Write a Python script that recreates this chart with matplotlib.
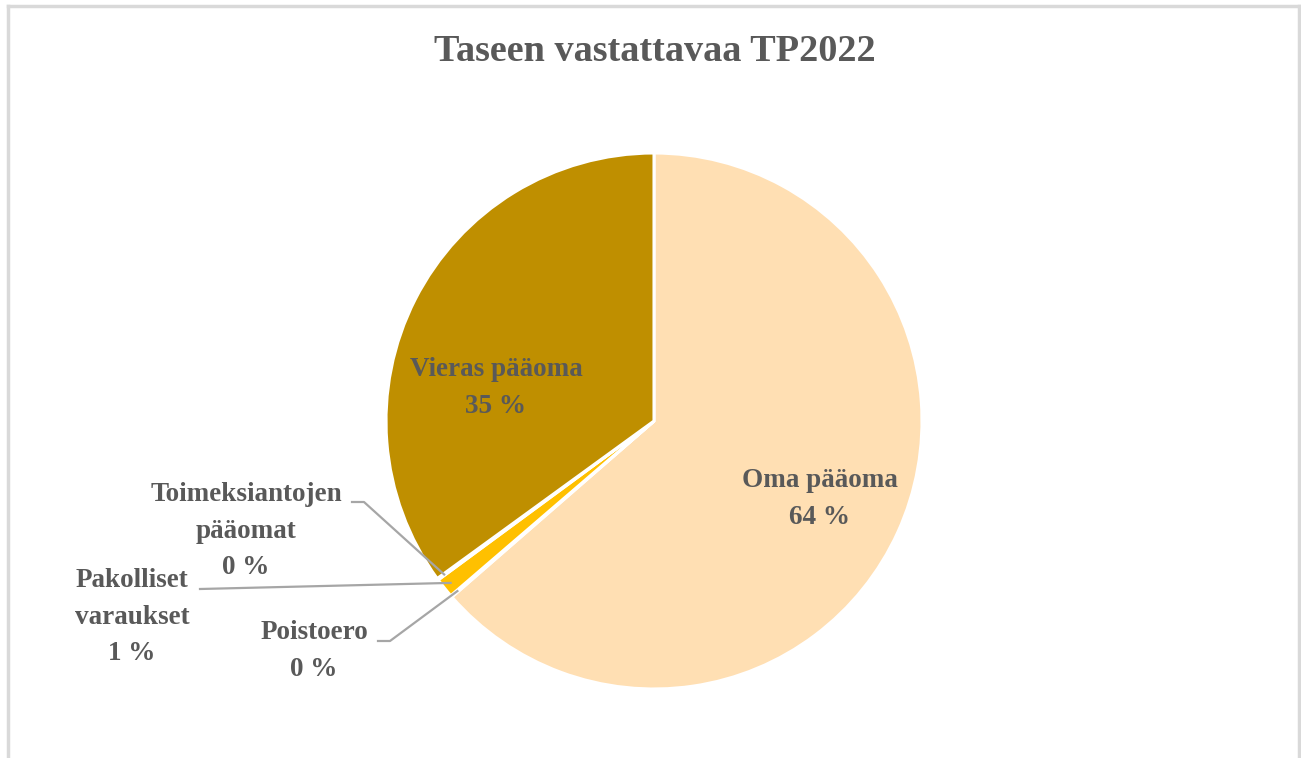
import numpy as np
import matplotlib.pyplot as plt
from matplotlib.lines import Line2D

labels = ['Oma pääoma', 'Poistoero', 'Pakolliset\nvaraukset', 'Toimeksiantojen\npääomat', 'Vieras pääoma']
shares = [63.6, 0.1, 1.2, 0.1, 35.0]
shown = ['64 %', '0 %', '1 %', '0 %', '35 %']
colors = ['#FFDFB3', '#F5D38A', '#FFC000', '#E0A800', '#BF8F00']

W, H = 1301, 758
cx, cy, R = 654, 421, 268

fig = plt.figure(figsize=(W / 100, H / 100), dpi=100)
ax = fig.add_axes([0, 0, 1, 1])

def px(x, y):
    # pixel -> data
    return (x - cx) / R, (cy - y) / R

wedges, _ = ax.pie(shares, colors=colors, startangle=90, counterclock=False,
                   radius=1, wedgeprops=dict(edgecolor='white', linewidth=2.2))
ax.set_aspect('auto')
ax.set_xlim(-cx / R, (W - cx) / R)
ax.set_ylim((cy - H) / R, cy / R)
ax.axis('off')

txt = dict(color='#595959', fontweight='bold', fontsize=19.5, family='Liberation Serif',
           ha='center', va='center', linespacing=1.6)

# labels inside big slices
ax.text(*px(820, 499), labels[0] + '\n' + shown[0], **txt)
ax.text(*px(496, 388), labels[4] + '\n' + shown[4], **txt)

def mid(w, r=0.97):
    a = np.deg2rad((w.theta1 + w.theta2) / 2)
    return r * np.cos(a), r * np.sin(a)

lc = '#A6A6A6'
# Toimeksiantojen
x0, y0 = mid(wedges[3])
ax.plot([px(352, 0)[0], px(364, 0)[0], x0], [px(0, 502)[1], px(0, 502)[1], y0], color=lc, lw=1.6)
ax.text(*px(246, 531), labels[3] + '\n' + shown[3], **txt)
# Pakolliset
x0, y0 = mid(wedges[2])
ax.plot([px(200, 0)[0], x0], [px(0, 589)[1], y0], color=lc, lw=1.6)
ax.text(*px(132, 617), labels[2] + '\n' + shown[2], **txt)
# Poistoero
x0, y0 = mid(wedges[1])
ax.plot([px(378, 0)[0], px(390, 0)[0], x0], [px(0, 641)[1], px(0, 641)[1], y0], color=lc, lw=1.6)
ax.text(*px(314, 651), labels[1] + '\n' + shown[1], **txt)

ax.text(*px(655, 52), 'Taseen vastattavaa TP2022', color='#595959', fontweight='bold',
        fontsize=27.5, family='Liberation Serif', ha='center', va='center')

# chart frame
fc = '#D9D9D9'
fig.add_artist(Line2D([8 / W, 8 / W], [0, 1 - 6 / H], color=fc, lw=2.5, transform=fig.transFigure))
fig.add_artist(Line2D([8 / W, 1300 / W], [1 - 6 / H, 1 - 6 / H], color=fc, lw=2.5, transform=fig.transFigure))
fig.add_artist(Line2D([1299 / W, 1299 / W], [0, 1 - 6 / H], color=fc, lw=2.5, transform=fig.transFigure))

fig.savefig('out.png', dpi=100, facecolor='white')
